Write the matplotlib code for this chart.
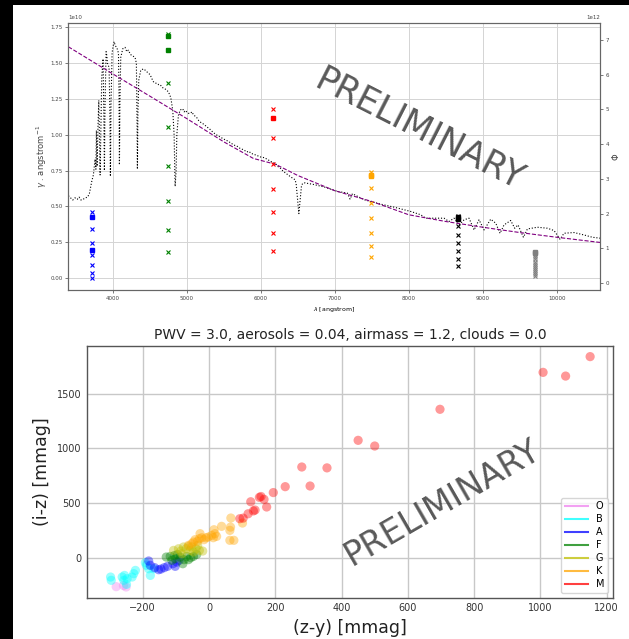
import matplotlib
matplotlib.use("Agg")
import matplotlib.pyplot as plt
from matplotlib.lines import Line2D
from matplotlib.patches import Rectangle

# ---------------- top panel data (flux in units of 1e10) ----------------
sed_wl = [3400, 3430, 3460, 3490, 3520, 3545, 3570, 3600, 3630, 3660, 3684, 3716, 3738, 3761,
          3772, 3779, 3788, 3800, 3811, 3822, 3829, 3838, 3851, 3869, 3880, 3887, 3895, 3910,
          3920, 3928, 3950, 3960, 3968, 3976, 3991, 4005, 4018, 4035, 4054, 4077, 4084, 4090,
          4097, 4108, 4135, 4166, 4190, 4211, 4240, 4270, 4301, 4319, 4326, 4333, 4340, 4351,
          4378, 4414, 4440, 4459, 4480, 4504, 4530, 4550, 4575, 4595, 4620, 4640, 4670, 4707,
          4730, 4752, 4784, 4811, 4829, 4843, 4856, 4866, 4887, 4910, 4930, 4946, 4965, 4977,
          5000, 5022, 5050, 5070, 5090, 5112, 5135, 5160, 5180, 5210, 5240, 5270, 5300, 5330,
          5360, 5400, 5450, 5500, 5541, 5590, 5631, 5680, 5721, 5770, 5811, 5840, 5870, 5901,
          5950, 6000, 6050, 6100, 6150, 6200, 6227, 6260, 6295, 6330, 6370, 6407, 6440, 6466,
          6480, 6497, 6515, 6533, 6550, 6565, 6600, 6640, 6700, 6856, 7036, 7171, 7207, 7239,
          7396, 7532, 7622, 7802, 8027, 8162, 8229, 8387, 8477, 8544, 8613, 8680, 8748, 8815,
          8883, 8950, 9018, 9108, 9176, 9234, 9288, 9378, 9432, 9477, 9550, 9604, 9739, 9874,
          9964, 10045, 10099, 10234, 10369, 10482, 10595]
sed_flux = [0.575, 0.56, 0.545, 0.56, 0.55, 0.565, 0.545, 0.55, 0.56, 0.565, 0.59, 0.675, 0.72, 0.83,
            0.76, 1.03, 0.78, 1.05, 1.24, 0.90, 0.72, 1.00, 1.40, 1.53, 1.10, 0.75, 1.20, 1.58,
            1.55, 1.50, 1.47, 1.20, 0.71, 1.20, 1.57, 1.62, 1.65, 1.62, 1.61, 1.57, 1.30, 0.79,
            1.25, 1.54, 1.60, 1.61, 1.58, 1.59, 1.56, 1.55, 1.54, 1.50, 1.20, 0.76, 1.15, 1.38,
            1.45, 1.46, 1.45, 1.44, 1.43, 1.42, 1.39, 1.37, 1.36, 1.36, 1.35, 1.35, 1.33, 1.32,
            1.31, 1.30, 1.26, 1.17, 1.00, 0.64, 0.75, 1.00, 1.135, 1.17, 1.18, 1.18, 1.16, 1.17,
            1.16, 1.15, 1.15, 1.16, 1.14, 1.13, 1.12, 1.10, 1.09, 1.08, 1.07, 1.055, 1.045, 1.03,
            1.015, 1.0, 0.985, 0.97, 0.96, 0.945, 0.93, 0.92, 0.905, 0.895, 0.88, 0.885, 0.87, 0.865,
            0.855, 0.845, 0.84, 0.825, 0.81, 0.80, 0.78, 0.77, 0.75, 0.735, 0.72, 0.705, 0.695, 0.685,
            0.65, 0.55, 0.45, 0.55, 0.64, 0.66, 0.665, 0.66, 0.655, 0.636, 0.605, 0.593, 0.551, 0.589,
            0.547, 0.528, 0.516, 0.495, 0.465, 0.442, 0.418, 0.418, 0.418, 0.395, 0.418, 0.371, 0.407, 0.418,
            0.336, 0.407, 0.336, 0.411, 0.383, 0.313, 0.371, 0.402, 0.348, 0.371, 0.285, 0.343, 0.355, 0.348,
            0.332, 0.271, 0.313, 0.318, 0.301, 0.285, 0.278]

bb_wl = [3400, 4000, 4500, 5000, 5500, 5900, 6200, 6500, 7000, 7500, 8000, 8500, 9000, 9500, 10000, 10600]
bb_flux = [1.614, 1.425, 1.27, 1.113, 0.951, 0.835, 0.794, 0.716, 0.61, 0.535, 0.442, 0.395, 0.355, 0.318, 0.285, 0.248]

band_wl = [3724, 4743, 6171, 7491, 8670, 9707]
band_colors = ["blue", "green", "red", "orange", "black", "gray"]
band_x_vals = [
    [0.460, 0.343, 0.243, 0.159, 0.089, 0.033, 0.0],
    [1.70, 1.358, 1.052, 0.780, 0.540, 0.336, 0.180],
    [1.18, 0.98, 0.799, 0.624, 0.460, 0.315, 0.192],
    [0.741, 0.629, 0.523, 0.418, 0.318, 0.227, 0.145],
    [0.43, 0.362, 0.301, 0.243, 0.189, 0.136, 0.086],
    [0.16, 0.145, 0.13, 0.115, 0.10, 0.085, 0.07, 0.055, 0.04, 0.027, 0.014],
]
band_sq_vals = [
    [0.423, 0.196],
    [1.689, 1.590],
    [1.120],
    [0.717, 0.710],
    [0.423, 0.409],
    [0.185, 0.175],
]

# ---------------- bottom panel data ----------------
spec_types = ["O", "B", "A", "F", "G", "K", "M"]
spec_colors = ["violet", "cyan", "blue", "green", "y", "orange", "red"]
zy_O = [-280, -250, -258]
iz_O = [-265, -268, -255]
zy_B = [-297, -295, -262, -255, -257, -247, -232, -227, -222, -249, -189, -182, -177, -167, -192]
iz_B = [-177, -207, -177, -162, -207, -192, -177, -146, -116, -244, -70, -101, -162, -101, -45]
zy_A = [-182, -177, -164, -152, -145, -135, -125, -109, -97, -90, -102]
iz_A = [-30, -70, -91, -110, -104, -91, -79, -55, -40, -24, -79]
zy_F = [-129, -117, -112, -102, -95, -87, -79, -75, -67, -62, -55, -47, -37, -104]
iz_F = [6, 12, -24, -9, 30, 6, -55, -18, 12, -18, 0, 12, 30, 21]
zy_G = [-107, -92, -85, -77, -69, -62, -57, -52, -47, -39, -34, -29, -19, -82]
iz_G = [67, 82, 61, 98, 82, 104, 67, 98, 52, 82, 113, 67, 61, 37]
zy_K = [-47, -42, -35, -29, -22, -15, -9, -2, 8, 13, 15, 18, 23, 38, 63, 65, 66, 63, 75, 101, -52, -62, -27]
iz_K = [143, 165, 149, 174, 183, 165, 183, 189, 204, 183, 256, 220, 195, 287, 250, 280, 363, 159, 159, 317, 128, 113, 220]
zy_M = [93, 103, 118, 126, 134, 139, 152, 157, 166, 174, 194, 230, 280, 305, 356, 450, 500, 697, 1008, 1076, 1150]
iz_M = [357, 362, 402, 512, 428, 436, 552, 560, 534, 464, 596, 650, 830, 656, 822, 1074, 1022, 1358, 1696, 1662, 1840]
zy_all = [zy_O, zy_B, zy_A, zy_F, zy_G, zy_K, zy_M]
iz_all = [iz_O, iz_B, iz_A, iz_F, iz_G, iz_K, iz_M]

title_txt = "PWV = 3.0, aerosols = 0.04, airmass = 1.2, clouds = 0.0"

W, H = 629, 639
fig = plt.figure(figsize=(W / 100, H / 100), dpi=100, facecolor="white")
# black frame strips (top and left) as in the reference screenshot
fig.patches.append(Rectangle((0, 1 - 5 / H), 1, 5 / H, transform=fig.transFigure,
                             facecolor="black", edgecolor="none", zorder=0))
fig.patches.append(Rectangle((0, 0), 13 / W, 1, transform=fig.transFigure,
                             facecolor="black", edgecolor="none", zorder=0))

# ---------------- top panel ----------------
ax1 = fig.add_axes([68 / W, 1 - 290 / H, (600 - 68) / W, (290 - 23) / H])
ax1.set_facecolor("white")
ax1.plot(sed_wl, [v * 1e10 for v in sed_flux], color="black", ls=":", lw=0.8)
ax1.plot(bb_wl, [v * 1e10 for v in bb_flux], color="purple", ls="--", lw=0.8)
for wl, col, xv, sv in zip(band_wl, band_colors, band_x_vals, band_sq_vals):
    ax1.plot([wl] * len(xv), [v * 1e10 for v in xv], ls="none", marker="x", ms=2.5, mew=0.8, color=col)
    ax1.plot([wl] * len(sv), [v * 1e10 for v in sv], ls="none", marker="s", ms=3.0, color=col)
ax1.set_xlim(3395, 10585)
ax1.set_ylim(-0.083e10, 1.78e10)
ax1.set_xticks([4000, 5000, 6000, 7000, 8000, 9000, 10000])
ax1.set_yticks([0, 0.25e10, 0.5e10, 0.75e10, 1.0e10, 1.25e10, 1.5e10, 1.75e10])
ax1.grid(True, color="#d4d4d4", lw=0.7)
ax1.set_axisbelow(True)
ax1.tick_params(labelsize=4, length=2, width=0.5, colors="#444444", pad=2)
ax1.yaxis.get_offset_text().set_fontsize(4)
ax1.set_xlabel(r"$\lambda$ [angstrom]", fontsize=4.5, labelpad=3)
ax1.set_ylabel(r"$\gamma$ . angstrom$^{-1}$", fontsize=6, color="#444444", labelpad=1)
for s in ax1.spines.values():
    s.set_color("#666666")
    s.set_linewidth(0.8)

ax1b = ax1.twinx()
ax1b.set_ylim(-0.2e12, 7.49e12)
ax1b.set_yticks([0, 1e12, 2e12, 3e12, 4e12, 5e12, 6e12, 7e12])
ax1b.tick_params(labelsize=4, length=2, width=0.5, colors="#444444", pad=2)
ax1b.yaxis.get_offset_text().set_fontsize(4)
ax1b.set_ylabel(r"$\Phi$", fontsize=6, color="#444444", labelpad=1)
for s in ax1b.spines.values():
    s.set_color("#666666")
    s.set_linewidth(0.8)

# ---------------- bottom panel ----------------
ax2 = fig.add_axes([86.7 / W, 1 - 597.7 / H, (613 - 86.7) / W, (597.7 - 345.7) / H])
ax2.set_facecolor("white")
for xs, ys, col in zip(zy_all, iz_all, spec_colors):
    ax2.scatter(xs, ys, s=44, color=col, alpha=0.4, edgecolors="none", zorder=3)
ax2.set_xlim(-369, 1219)
ax2.set_ylim(-366, 1940)
ax2.set_xticks([-200, 0, 200, 400, 600, 800, 1000, 1200])
ax2.set_yticks([0, 500, 1000, 1500])
ax2.grid(True, color="#c8c8c8", lw=1.0)
ax2.set_axisbelow(True)
ax2.tick_params(labelsize=7, length=0, pad=4, colors="#333333")
ax2.set_xlabel("(z-y) [mmag]", fontsize=12.5, labelpad=4, color="#222222")
ax2.set_ylabel("(i-z) [mmag]", fontsize=12.5, labelpad=4, color="#222222")
ax2.set_title(title_txt, fontsize=10, pad=5, color="#222222")
for s in ax2.spines.values():
    s.set_color("#555555")
    s.set_linewidth(1.0)
handles = [Line2D([0], [0], color=c, lw=1.5, alpha=0.75) for c in spec_colors]
leg = ax2.legend(handles, spec_types, loc="lower right", fontsize=7, handlelength=2.4,
                 labelspacing=0.3, borderpad=0.4, handletextpad=0.8, framealpha=0.8)
leg.set_zorder(5)

# ---------------- watermarks ----------------
fig.text(419 / W, 1 - 130 / H, "PRELIMINARY", fontsize=25, color="#3c3c3c", alpha=0.85,
         rotation=-27, ha="center", va="center", rotation_mode="anchor", zorder=10)
fig.text(442 / W, 1 - 503 / H, "PRELIMINARY", fontsize=24, color="#3c3c3c", alpha=0.85,
         rotation=30, ha="center", va="center", rotation_mode="anchor", zorder=10)

fig.savefig("out.png", dpi=100, facecolor="white")
